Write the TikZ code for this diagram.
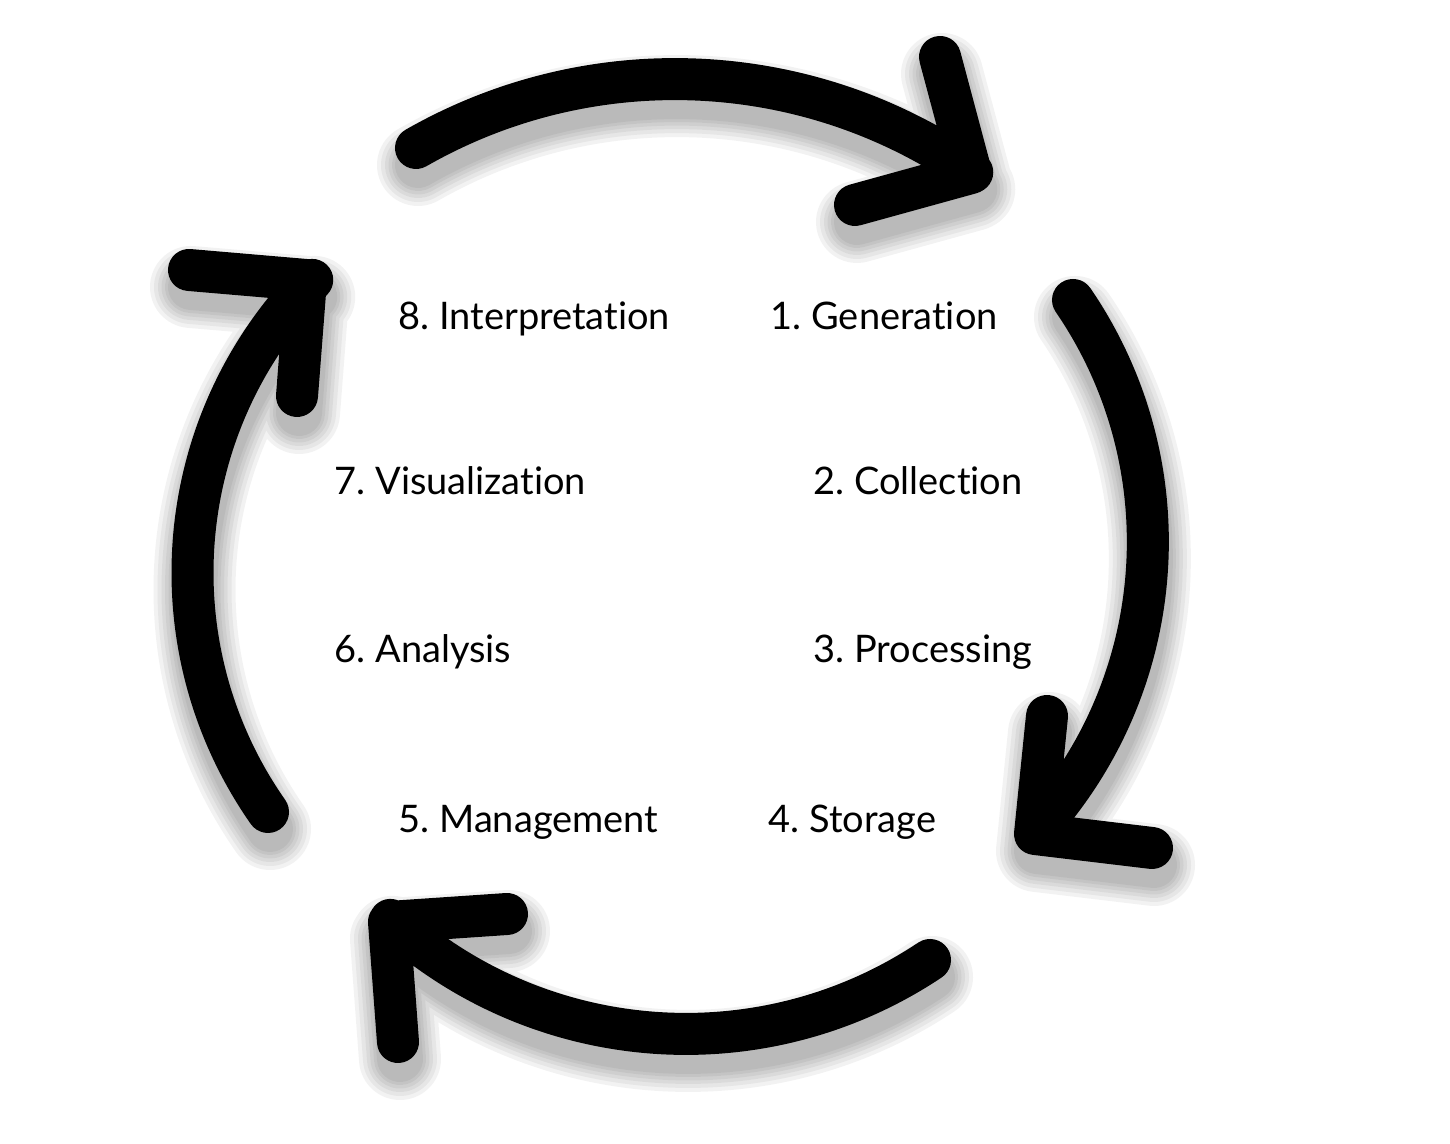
\documentclass[tikz,border=0pt]{standalone}
\usepackage{fontspec}
\setmainfont[Ligatures=NoCommon]{Lato}
\frenchspacing
\usepackage{tikz}

\tikzset{
  cycle arrow/.style={line width=0.42cm, line cap=round, line join=round, black},
  shadow layer/.style={draw, black, opacity=0.05, line width=#1, line cap=round, line join=round,
    transform canvas={shift={(0.02,-0.17)}}},
  soft shadow/.style={
    preaction={shadow layer=0.82cm}, preaction={shadow layer=0.74cm},
    preaction={shadow layer=0.66cm}, preaction={shadow layer=0.59cm},
    preaction={shadow layer=0.52cm}, preaction={shadow layer=0.46cm}},
  step label/.style={anchor=base west, inner sep=0pt, font=\fontsize{10.8}{13}\selectfont}
}

\begin{document}
\begin{tikzpicture}
		\useasboundingbox (0,0) rectangle (14.5,11.44);

		% Arc starts and arrow heads
		\coordinate (topStart) at (4.16,9.96);
		\coordinate (topArmA) at (9.40,10.87);
		\coordinate (topTip) at (9.71,9.71);
		\coordinate (topArmB) at (8.55,9.39);

		\coordinate (rightStart) at (10.73,8.44);
		\coordinate (rightArmA) at (10.47,4.28);
		\coordinate (rightTip) at (10.35,3.10);
		\coordinate (rightArmB) at (11.52,2.96);

		\coordinate (bottomStart) at (9.30,1.84);
		\coordinate (bottomArmA) at (5.07,2.30);
		\coordinate (bottomTip) at (3.89,2.22);
		\coordinate (bottomArmB) at (3.98,1.02);

		\coordinate (leftStart) at (2.68,3.32);
		\coordinate (leftArmA) at (1.89,8.74);
		\coordinate (leftTip) at (3.06,8.64);
		\coordinate (leftArmB) at (2.97,7.48);

		% Cycle arrows
		\draw[cycle arrow, soft shadow] (topStart) arc[start angle=119.8, end angle=55.2, radius=5.21]
			(topArmA) -- (topTip) -- (topArmB);
		\draw[cycle arrow, soft shadow] (rightStart) arc[start angle=34.4, end angle=-42.3, radius=4.28]
			(rightArmA) -- (rightTip) -- (rightArmB);
		\draw[cycle arrow, soft shadow] (bottomStart) arc[start angle=-56.3, end angle=-132.2, radius=4.40]
			(bottomArmA) -- (bottomTip) -- (bottomArmB);
		\draw[cycle arrow, soft shadow] (leftStart) arc[start angle=215.0, end angle=135.5, radius=4.175]
			(leftArmA) -- (leftTip) -- (leftArmB);

		% Steps
		\node[step label] (gen) at (7.70,8.14) {1. Generation};
		\node[step label] (col) at (8.13,6.49) {2. Collection};
		\node[step label] (proc) at (8.13,4.81) {3. Processing};
		\node[step label] (stor) at (7.68,3.11) {4. Storage};
		\node[step label] (mgmt) at (3.98,3.11) {5. Management};
		\node[step label] (ana) at (3.34,4.81) {6. Analysis};
		\node[step label] (vis) at (3.34,6.49) {7. Visualization};
		\node[step label] (interp) at (3.98,8.14) {8. Interpretation};
	\end{tikzpicture}
\end{document}
